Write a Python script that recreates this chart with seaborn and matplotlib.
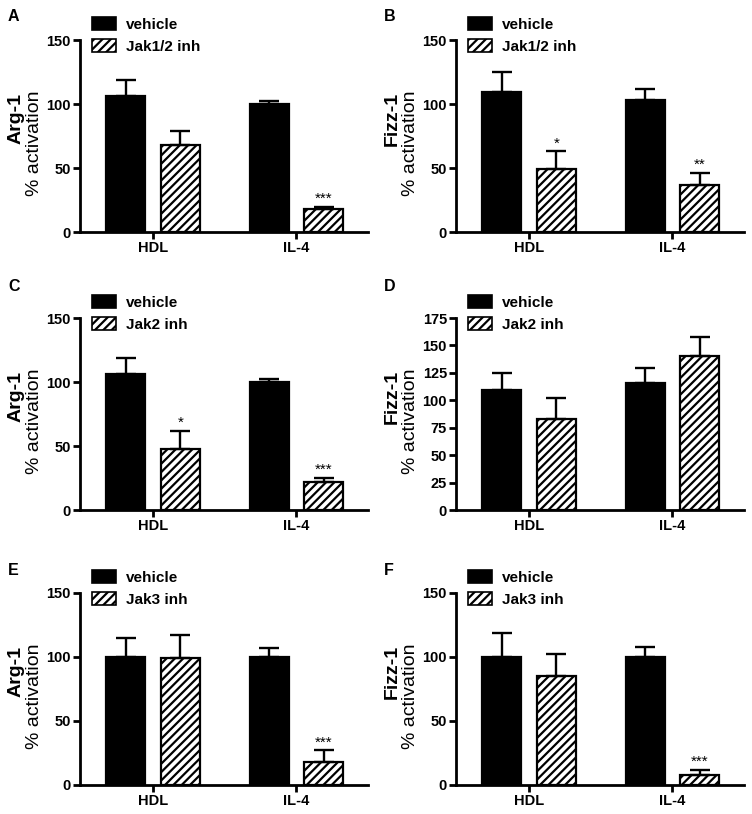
import numpy as np
import pandas as pd
import matplotlib
matplotlib.use("Agg")
import matplotlib.pyplot as plt
import seaborn as sns
from matplotlib.patches import Patch

# data (mean, upper error bar value)
treatments = ["HDL", "IL-4"]
letters = ["A", "B", "C", "D", "E", "F"]
genes = ["Arg-1", "Fizz-1", "Arg-1", "Fizz-1", "Arg-1", "Fizz-1"]
inhibitors = ["Jak1/2 inh", "Jak1/2 inh", "Jak2 inh", "Jak2 inh", "Jak3 inh", "Jak3 inh"]

veh_mean = [[106, 100], [109, 103], [106, 100], [109, 116], [100, 100], [100, 100]]
veh_err = [[13, 2], [16, 9], [13, 2], [16, 13], [15, 7], [19, 8]]
inh_mean = [[68, 18], [49, 37], [48, 22], [83, 140], [99, 18], [85, 8]]
inh_err = [[11, 1.5], [14, 9], [14, 3], [19, 18], [18, 9], [17, 4]]
stars = [["", "***"], ["*", "**"], ["*", "***"], ["", ""], ["", "***"], ["", "***"]]
ymax = [150, 150, 150, 175, 150, 150]
ystep = [50, 50, 50, 25, 50, 50]

sns.set_style("ticks")
plt.rcParams['font.family'] = ['Liberation Sans', 'DejaVu Sans']
plt.rcParams['hatch.linewidth'] = 1.6
plt.rcParams['hatch.color'] = 'black'
for key in ['text.color', 'axes.labelcolor', 'xtick.color', 'ytick.color',
            'axes.edgecolor']:
    plt.rcParams[key] = 'black'

fig = plt.figure(figsize=(7.52, 8.14), dpi=100)
W, H = 752, 814

# axes boxes in pixels: left, y of zero line, y of top
col_left = [80, 456]
row_zero = [232, 510, 785]
row_top = [40, 318, 593]
letter_base = [21, 291, 575]

for i in range(6):
    r, c = divmod(i, 2)
    left = col_left[c]
    ax = fig.add_axes([left / W, 1 - row_zero[r] / H, 288 / W,
                       (row_zero[r] - row_top[r]) / H])

    df = pd.DataFrame({
        'treatment': treatments * 2,
        'group': ['vehicle'] * 2 + [inhibitors[i]] * 2,
        'value': veh_mean[i] + inh_mean[i],
    })
    sns.barplot(data=df, x='treatment', y='value', hue='group',
                palette=['black', 'white'], edgecolor='black', linewidth=1.6,
                width=0.76, gap=0.28, errorbar=None, legend=False, ax=ax)

    errs = [veh_err[i], inh_err[i]]
    means = [veh_mean[i], inh_mean[i]]
    bars = list(ax.containers)
    for k, cont in enumerate(bars):
        for j, p in enumerate(cont.patches):
            if k == 1:
                p.set_hatch('////')
            x = p.get_x() + p.get_width() / 2
            ax.errorbar(x, means[k][j], yerr=[[0], [errs[k][j]]], fmt='none',
                        ecolor='black', elinewidth=1.7, capsize=7.5,
                        capthick=1.7, zorder=1)
            if k == 1 and stars[i][j]:
                ax.text(x, means[k][j] + errs[k][j] + ymax[i] * 0.005,
                        stars[i][j], ha='center', va='bottom', fontsize=11)

    ax.set_xlim(-0.51, 1.5)
    ax.set_ylim(0, ymax[i])
    ax.set_yticks(np.arange(0, ymax[i] + 1, ystep[i]))
    ax.set_xlabel('')
    ax.set_ylabel('')
    sns.despine(ax=ax)
    for s in ['left', 'bottom']:
        ax.spines[s].set_linewidth(2)
    ax.tick_params(width=2, length=5, labelsize=10.5, pad=1.5)
    for t in ax.get_xticklabels() + ax.get_yticklabels():
        t.set_fontweight('bold')

    ax.text(-0.222, 0.59, genes[i], transform=ax.transAxes, rotation=90,
            ha='center', va='center', fontsize=14, fontweight='bold')
    ax.text(-0.158, 0.46, '% activation', transform=ax.transAxes, rotation=90,
            ha='center', va='center', fontsize=14)

    handles = [Patch(facecolor='black', edgecolor='black', linewidth=1.2),
               Patch(facecolor='white', edgecolor='black', linewidth=1.2, hatch='////')]
    ax.legend(handles, ['vehicle', inhibitors[i]], loc='upper left',
              bbox_to_anchor=(0.04, 1.12), frameon=False, borderpad=0,
              borderaxespad=0, handlelength=1.6, handleheight=0.95,
              handletextpad=0.65, labelspacing=0.45,
              prop={'weight': 'bold', 'size': 11})

    fig.text((left - 72) / W, 1 - letter_base[r] / H, letters[i],
             fontsize=11.5, fontweight='bold', va='baseline')

fig.savefig('out.png', dpi=100)
